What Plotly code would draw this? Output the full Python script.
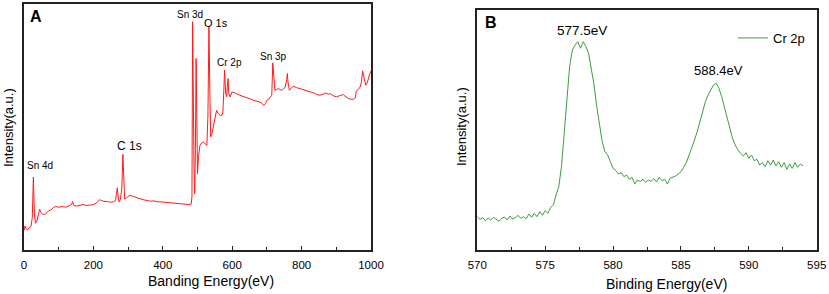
import plotly.graph_objects as go

# ---------------- Panel A: survey spectrum ----------------
survey_energy = [0, 3, 6, 10, 15, 20, 24, 27, 30, 33, 37, 42, 45, 49, 55, 62, 70, 78, 86, 92,
                 100, 110, 120, 130, 137, 140, 143, 150, 160, 170, 180, 190, 200, 208, 215, 220,
                 228, 240, 250, 258, 264, 267, 269, 271, 274, 278, 282, 285, 287, 290, 295, 305,
                 315, 325, 335, 345, 355, 365, 375, 385, 395, 405, 415, 425, 435, 445, 455, 465,
                 475, 482, 484, 486, 488, 490, 492, 494, 496, 498, 500, 503, 507, 512, 517, 522,
                 527, 530, 533, 536, 538, 542, 546, 550, 555, 560, 565, 570, 573, 576, 578, 581,
                 584, 586, 588, 590, 594, 600, 605, 612, 622, 632, 642, 652, 661, 670, 678, 685,
                 690, 696, 700, 706, 710, 714, 717, 720, 723, 728, 733, 738, 743, 748, 753, 757,
                 759, 761, 765, 770, 776, 785, 795, 805, 815, 824, 835, 845, 853, 862, 870, 877,
                 882, 890, 901, 910, 920, 928, 935, 942, 949, 955, 957, 962, 968, 972, 976, 980,
                 985, 989, 992, 996, 1000]
survey_intensity = [58, 72, 64, 60, 66, 70, 98, 218, 108, 80, 86, 108, 122, 112, 106, 108, 116, 120, 128, 130,
                    128, 130, 128, 132, 136, 145, 134, 131, 134, 136, 133, 134, 136, 140, 148, 150,
                    146, 145, 143, 144, 148, 173, 186, 163, 144, 152, 188, 286, 228, 152, 156, 164,
                    160, 156, 154, 150, 148, 146, 147, 144, 144, 143, 141, 140, 139, 138, 137, 136,
                    136, 138, 160, 683, 400, 240, 168, 300, 573, 350, 228, 280, 313, 320, 323, 318,
                    313, 400, 670, 450, 338, 350, 368, 390, 418, 408, 403, 403, 410, 480, 538, 470,
                    458, 490, 513, 470, 458, 473, 470, 468, 463, 460, 456, 452, 448, 446, 443, 440,
                    433, 438, 448, 452, 456, 463, 560, 500, 478, 480, 483, 480, 478, 482, 488, 510,
                    528, 500, 478, 484, 490, 486, 483, 480, 476, 473, 470, 465, 463, 466, 470, 466,
                    468, 462, 458, 462, 465, 458, 453, 451, 451, 455, 473, 480, 486, 500, 536, 515,
                    493, 500, 513, 525, 536]

# ---------------- Panel B: Cr 2p high-resolution ----------------
cr_energy = [round(570 + 0.2 * i, 1) for i in range(121)]
cr_intensity = [100, 92, 97, 88, 96, 90, 98, 91, 86, 95,
                99, 90, 102, 93, 97, 104, 95, 100, 94, 108,
                98, 110, 100, 115, 104, 118, 110, 128, 135, 165,
                190, 250, 350, 450, 550, 600, 615, 625, 605, 625,
                610, 590, 545, 495, 430, 375, 325, 295, 285, 265,
                245, 238, 228, 232, 220, 225, 212, 218, 198, 210,
                205, 212, 203, 210, 206, 214, 204, 218, 208, 212,
                198, 215, 218, 222, 228, 235, 248, 262, 285, 305,
                330, 355, 385, 420, 445, 465, 478, 495, 500, 485,
                460, 430, 400, 365, 335, 315, 300, 290, 282, 292,
                275, 285, 268, 272, 255, 262, 250, 268, 255, 270,
                252, 265, 248, 262, 242, 258, 245, 262, 248, 258,
                252]

survey_peaks = ["Sn 4d", "C 1s", "Sn 3d", "O 1s", "Cr 2p", "Sn 3p"]
cr_peaks = ["577.5eV", "588.4eV"]

W, H = 829, 294
FONT = "Arial, Liberation Sans, sans-serif"


def px(x, y):
    return x / W, 1 - y / H


fig = go.Figure()
fig.add_trace(go.Scatter(x=survey_energy, y=survey_intensity, mode="lines",
                         line=dict(color="#ff1a1a", width=1), showlegend=False,
                         xaxis="x", yaxis="y"))
fig.add_trace(go.Scatter(x=cr_energy, y=cr_intensity, mode="lines", name="Cr 2p",
                         line=dict(color="#3a9e3a", width=1), showlegend=True,
                         xaxis="x2", yaxis="y2"))

axis_common = dict(showline=True, linecolor="#222", linewidth=1.5, mirror=True,
                   showgrid=False, zeroline=False, automargin=False)

xa_l, xa_r = 24 / W, 371 / W
xb_l, xb_r = 477.3 / W, 816.7 / W
y_bot = 1 - 250 / H

fig.update_layout(
    template="none",
    width=W, height=H, margin=dict(l=0, r=0, t=0, b=0, pad=0),
    paper_bgcolor="white", plot_bgcolor="white",
    font=dict(family=FONT, color="black"),
    xaxis=dict(domain=[xa_l, xa_r], range=[0, 1000], dtick=200, ticks="inside", ticklen=4,
               tickcolor="#222", minor=dict(dtick=100, ticks="inside", ticklen=3, tickcolor="#222"),
               tickfont=dict(size=11.5), ticklabelstandoff=3, anchor="y", **axis_common),
    yaxis=dict(domain=[y_bot, 1 - 4 / H], range=[0, 736], showticklabels=False, ticks="",
               anchor="x", **axis_common),
    xaxis2=dict(domain=[xb_l, xb_r], range=[570, 595], dtick=5, ticks="inside", ticklen=4,
                tickcolor="#222", minor=dict(dtick=2.5, ticks="inside", ticklen=3, tickcolor="#222"),
                tickfont=dict(size=11.5), ticklabelstandoff=3, anchor="y2", **axis_common),
    yaxis2=dict(domain=[y_bot, 1 - 10 / H], range=[0, 720], showticklabels=False, ticks="",
                anchor="x2", **axis_common),
    legend=dict(x=733 / W, y=1 - 23 / H, xanchor="left", yanchor="top",
                bgcolor="rgba(0,0,0,0)", font=dict(size=13), itemwidth=30),
)

ann = []


def add(text, x, y, size, bold=False, angle=0, xanchor="center"):
    ax, ay = px(x, y)
    ann.append(dict(text=f"<b>{text}</b>" if bold else text, x=ax, y=ay, xref="paper", yref="paper",
                    showarrow=False, font=dict(size=size, family=FONT, color="black"),
                    textangle=angle, xanchor=xanchor, yanchor="middle"))


add("A", 36, 17, 16, bold=True)
add("B", 491, 23, 16, bold=True)
add(survey_peaks[0], 40, 165, 10)
add(survey_peaks[1], 129, 146, 12)
add(survey_peaks[2], 190, 15, 10)
add(survey_peaks[3], 216, 23, 11)
add(survey_peaks[4], 229, 62, 10)
add(survey_peaks[5], 273, 56, 10)
add(cr_peaks[0], 582, 30, 13.5)
add(cr_peaks[1], 718, 71, 13)
add("Banding Energy(eV)", 211, 281, 14)
add("Binding Energy(eV)", 666, 284, 14)
add("Intensity(a.u.)", 8, 128, 13, angle=-90)
add("Intensity(a.u.)", 462, 127, 13, angle=-90)

fig.update_layout(annotations=ann)
fig.write_html("out.html", config={"displayModeBar": False},
               post_script="document.body.style.margin='0';")
